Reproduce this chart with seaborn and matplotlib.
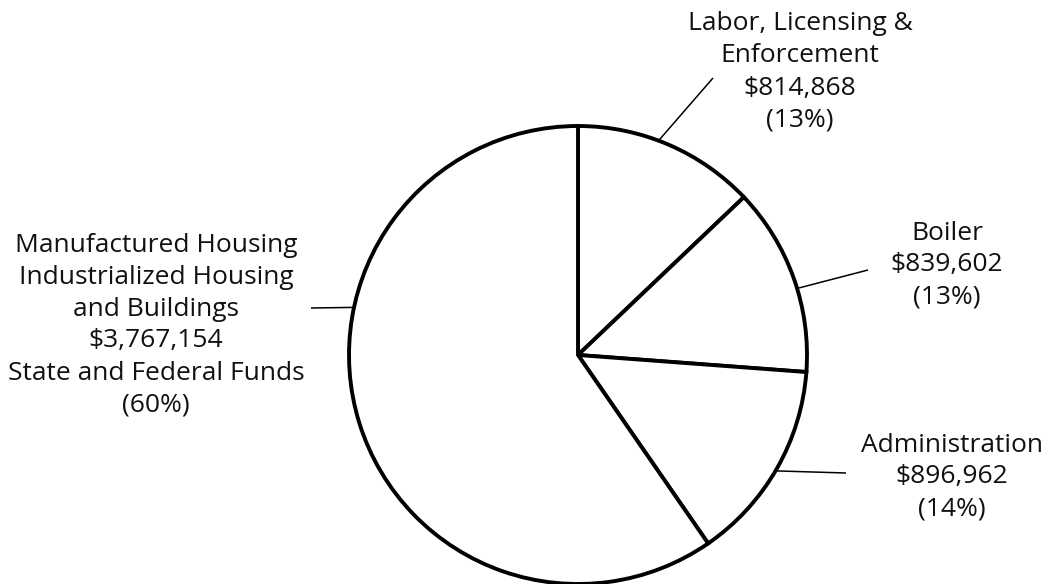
import numpy as np
import matplotlib.pyplot as plt
import seaborn as sns

# budget by program
programs = ["Labor, Licensing &\nEnforcement", "Boiler", "Administration",
            "Manufactured Housing\nIndustrialized Housing\nand Buildings"]
amounts = [814868, 839602, 896962, 3767154]
notes = ["", "", "", "State and Federal Funds"]

sns.set_theme(style="white")
plt.rcParams['font.family'] = ['Open Sans', 'DejaVu Sans']

W, H = 1049, 584
fig = plt.figure(figsize=(W / 100, H / 100), dpi=100)
ax = fig.add_axes([0, 0, 1, 1])

cx, cy, r = 578, H - 355, 229
ax.pie(amounts, startangle=90, counterclock=False, center=(cx, cy), radius=r,
       wedgeprops=dict(facecolor='white', edgecolor='black', linewidth=2.8))
ax.set_xlim(0, W)
ax.set_ylim(0, H)
ax.set_aspect('equal')
ax.axis('off')

# label layout: leader angle on circle, leader end, text centre x, first line y (px from top)
leader_ang = [69.4, 16.9, -30.4, 168.0]
leader_end = [(713, 78), (868, 270), (846, 473), (311, 308)]
text_pos = [(800, 24), (947, 233), (952, 445), (156, 245)]
step = 32

total = sum(amounts)
for i, name in enumerate(programs):
    a = np.radians(leader_ang[i])
    x0, y0 = cx + r * np.cos(a), cy + r * np.sin(a)
    x1, y1 = leader_end[i]
    ax.plot([x0, x1], [y0, H - y1], color='black', lw=1.1, solid_capstyle='butt')

    lines = name.split("\n") + [f"${amounts[i]:,}"]
    if notes[i]:
        lines.append(notes[i])
    lines.append(f"({amounts[i] / total * 100:.0f}%)")
    tx, ty = text_pos[i]
    for j, line in enumerate(lines):
        ax.text(tx, H - (ty + j * step), line, ha='center', va='center',
                fontsize=19, color='#111111')

fig.savefig("out.png", dpi=100, facecolor='white')
